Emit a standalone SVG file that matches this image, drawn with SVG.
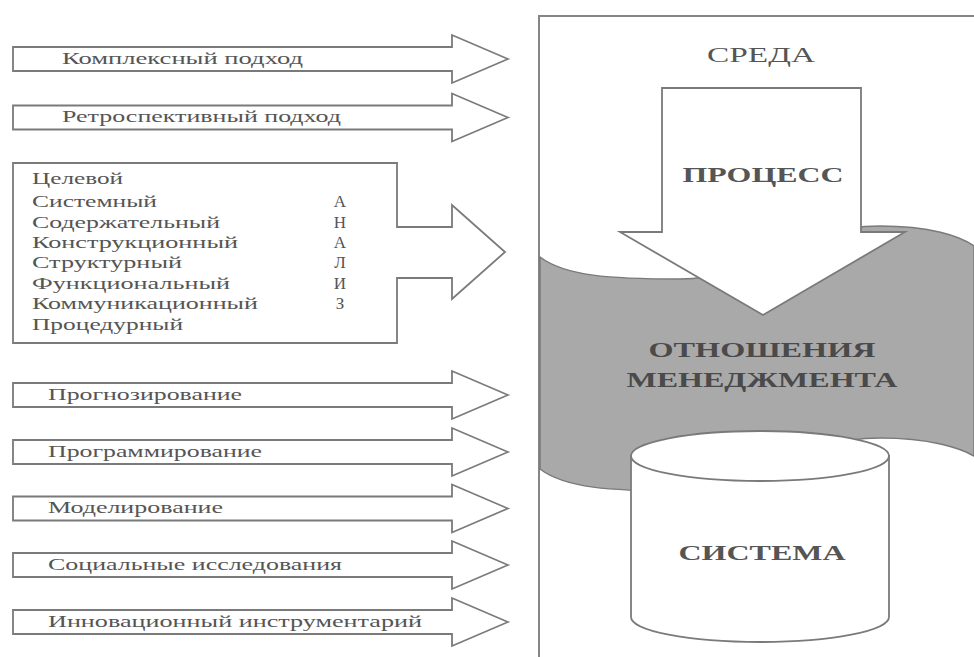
<svg xmlns="http://www.w3.org/2000/svg" width="974" height="657" viewBox="0 0 974 657">
<style>
.arr{fill:#fff;stroke:#7a7a7a;stroke-width:1.8;stroke-linejoin:miter}
.lt{font-family:"Liberation Serif","Times New Roman",serif;font-size:17px;fill:#555}
.ct{font-family:"Liberation Serif","Times New Roman",serif;font-size:22px;fill:#555;font-weight:bold;text-anchor:middle}
</style>
<rect width="974" height="657" fill="#fff"/>
<g id="connectors">
<polygon id="a1" class="arr" points="13,47 452,47 452,35 508,59 452,83 452,71 13,71"/>
<polygon id="a2" class="arr" points="13,105.5 452,105.5 452,93.5 508,117.5 452,141.5 452,129.5 13,129.5"/>
<polygon id="a3" class="arr" points="13,383 452,383 452,371 508,395 452,419 452,407 13,407"/>
<polygon id="a4" class="arr" points="13,440 452,440 452,428 508,452 452,476 452,464 13,464"/>
<polygon id="a5" class="arr" points="13,496.5 452,496.5 452,484.5 508,508.5 452,532.5 452,520.5 13,520.5"/>
<polygon id="a6" class="arr" points="13,553 452,553 452,541 508,565 452,589 452,577 13,577"/>
<polygon id="a7" class="arr" points="13,610 452,610 452,598 508,622 452,646 452,634 13,634"/>
</g>
<g id="n-arrow1"><text class="lt" x="62" y="64" textLength="241" lengthAdjust="spacingAndGlyphs">Комплексный  подход</text></g>
<g id="n-arrow2"><text class="lt" x="62" y="122" textLength="279" lengthAdjust="spacingAndGlyphs">Ретроспективный подход</text></g>
<g id="n-analysis">
<polygon class="arr" points="13,163 397,163 397,227 452,227 452,205 505,252 452,299 452,278 397,278 397,343 13,343"/>
<text class="lt" x="32" y="184" textLength="91" lengthAdjust="spacingAndGlyphs">Целевой</text>
<text class="lt" x="32" y="207" textLength="125" lengthAdjust="spacingAndGlyphs">Системный</text>
<text class="lt" x="32" y="228" textLength="188" lengthAdjust="spacingAndGlyphs">Содержательный</text>
<text class="lt" x="32" y="248" textLength="206" lengthAdjust="spacingAndGlyphs">Конструкционный</text>
<text class="lt" x="32" y="268" textLength="150" lengthAdjust="spacingAndGlyphs">Структурный</text>
<text class="lt" x="32" y="289" textLength="198" lengthAdjust="spacingAndGlyphs">Функциональный</text>
<text class="lt" x="32" y="309" textLength="226" lengthAdjust="spacingAndGlyphs">Коммуникационный</text>
<text class="lt" x="32" y="330" textLength="151" lengthAdjust="spacingAndGlyphs">Процедурный</text>
<g text-anchor="middle">
<text class="lt" x="340" y="207">А</text>
<text class="lt" x="340" y="228">Н</text>
<text class="lt" x="340" y="248">А</text>
<text class="lt" x="340" y="268">Л</text>
<text class="lt" x="340" y="289">И</text>
<text class="lt" x="340" y="309">З</text>
</g>
</g>
<g id="n-arrow3"><text class="lt" x="48" y="400" textLength="194" lengthAdjust="spacingAndGlyphs">Прогнозирование</text></g>
<g id="n-arrow4"><text class="lt" x="48" y="457" textLength="214" lengthAdjust="spacingAndGlyphs">Программирование</text></g>
<g id="n-arrow5"><text class="lt" x="48" y="513" textLength="175" lengthAdjust="spacingAndGlyphs">Моделирование</text></g>
<g id="n-arrow6"><text class="lt" x="48" y="570" textLength="294" lengthAdjust="spacingAndGlyphs">Социальные исследования</text></g>
<g id="n-arrow7"><text class="lt" x="48" y="627" textLength="374" lengthAdjust="spacingAndGlyphs">Инновационный инструментарий</text></g>
<g id="n-env">
<rect x="539" y="16" width="500" height="700" fill="#fff" stroke="#858585" stroke-width="2"/>
<text class="ct" x="761" y="62" textLength="108" lengthAdjust="spacingAndGlyphs" style="font-weight:normal">СРЕДА</text>
</g>
<g id="n-relations">
<path d="M540,257 C565,276 610,279 680,279 C760,279 790,226 880,226 C930,226 960,236 974,246 L974,456 C960,448 930,438 880,438 C790,438 760,491 680,491 C610,491 565,488 540,469 Z" fill="#a9a9a9" stroke="#7a7a7a" stroke-width="1.5"/>
<text class="ct" x="762" y="357" textLength="227" lengthAdjust="spacingAndGlyphs" style="fill:#4a4a4a">ОТНОШЕНИЯ</text>
<text class="ct" x="762" y="387" textLength="271" lengthAdjust="spacingAndGlyphs" style="fill:#4a4a4a">МЕНЕДЖМЕНТА</text>
</g>
<g id="n-process">
<polygon class="arr" points="662,88 861,88 861,232 905,232 763,315 620,232 662,232"/>
<text class="ct" x="763" y="182" textLength="161" lengthAdjust="spacingAndGlyphs">ПРОЦЕСС</text>
</g>
<g id="n-system">
<path class="arr" d="M631,456 L631,617 A129,25 0 0 0 889,617 L889,456 Z"/>
<ellipse class="arr" cx="760" cy="456" rx="129" ry="25"/>
<text class="ct" x="762" y="560" textLength="167" lengthAdjust="spacingAndGlyphs">СИСТЕМА</text>
</g>
</svg>
